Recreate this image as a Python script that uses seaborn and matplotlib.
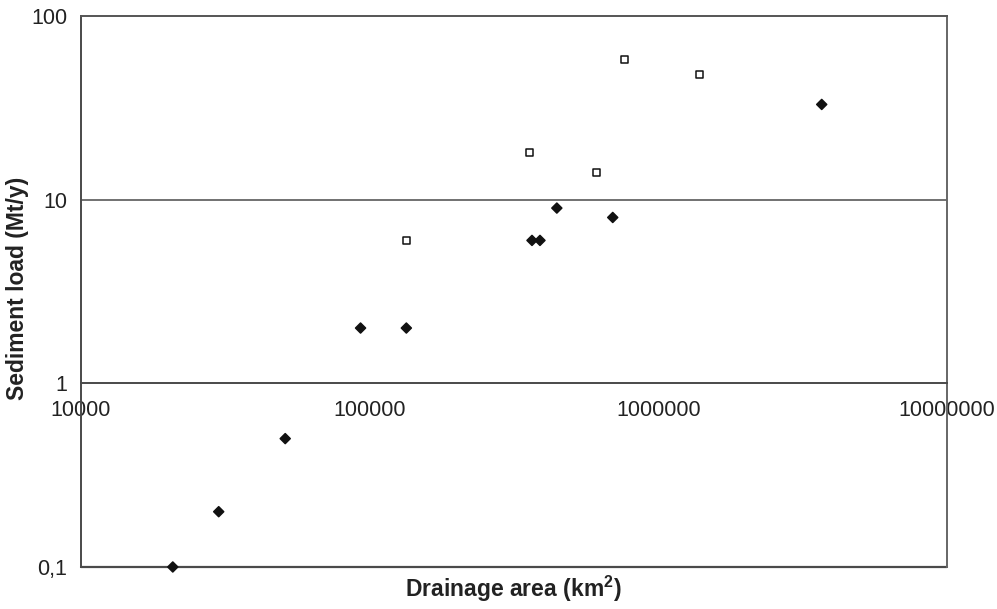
import pandas as pd
import matplotlib
matplotlib.use("Agg")
import matplotlib.pyplot as plt
import seaborn as sns

# data (drainage area km2, sediment load Mt/y)
filled_area = [20800, 30000, 51000, 93000, 134000, 365000, 389000, 445000, 695000, 3680000]
filled_load = [0.1, 0.2, 0.5, 2, 2, 6, 6, 9, 8, 33]
open_area = [134000, 359000, 612000, 764000, 1390000]
open_load = [6, 18, 14, 58, 48]

x_ticks = [10000, 100000, 1000000, 10000000]
x_tick_labels = ["10000", "100000", "1000000", "10000000"]
y_ticks = [0.1, 1, 10, 100]
y_tick_labels = ["0,1", "1", "10", "100"]

df = pd.DataFrame({
    "area": filled_area + open_area,
    "load": filled_load + open_load,
    "kind": ["filled"] * len(filled_area) + ["open"] * len(open_area),
})

sns.set_style("white")
plt.rcParams["font.family"] = ["Liberation Sans", "DejaVu Sans"]
plt.rcParams["mathtext.fontset"] = "custom"
plt.rcParams["mathtext.bf"] = "Liberation Sans:bold"

fig = plt.figure(figsize=(9.97, 6.09), dpi=100)
ax = fig.add_axes([0.0812, 0.069, 0.8687, 0.9047])

line_col = "#4a4a4a"

# gridline at 10 and frame bottom at 0.1
ax.axhline(10, color="#666666", lw=1.3, zorder=1)
ax.axhline(0.1, color=line_col, lw=1.6, zorder=1, clip_on=False)

sns.scatterplot(data=df, x="area", y="load", hue="kind", style="kind",
                palette={"filled": "#111111", "open": "white"},
                markers={"filled": "D", "open": "s"},
                s=26, edgecolor="#111111", linewidth=1.1,
                legend=False, ax=ax, zorder=3, clip_on=False)

ax.set_xscale("log")
ax.set_yscale("log")
ax.set_xlim(10000, 10000000)
ax.set_ylim(0.1, 100)
ax.set_xticks(x_ticks, x_tick_labels)
ax.set_yticks(y_ticks, y_tick_labels)
ax.minorticks_off()

# x axis crosses at y = 1
ax.spines["bottom"].set_position(("data", 1))
for side in ["left", "right", "top", "bottom"]:
    ax.spines[side].set_color(line_col)
    ax.spines[side].set_linewidth(1.4)
ax.spines["right"].set_color("#666666")
ax.spines["top"].set_color("#555555")

ax.tick_params(axis="both", which="major", direction="out", length=5,
               width=1, color=line_col, labelsize=15.5, labelcolor="#222222")
ax.tick_params(axis="x", pad=7)
ax.tick_params(axis="y", pad=5)

ax.set_xlabel("")
ax.set_ylabel("")
fig.text(0.515, 0.008, "Drainage area (km$^{\\mathbf{2}}$)", ha="center", va="bottom",
         fontsize=16.5, fontweight="bold", color="#222222")
fig.text(0.018, 0.527, "Sediment load (Mt/y)", ha="center", va="center",
         rotation=90, fontsize=16.5, fontweight="bold", color="#222222")

fig.savefig("out.png", dpi=100)
